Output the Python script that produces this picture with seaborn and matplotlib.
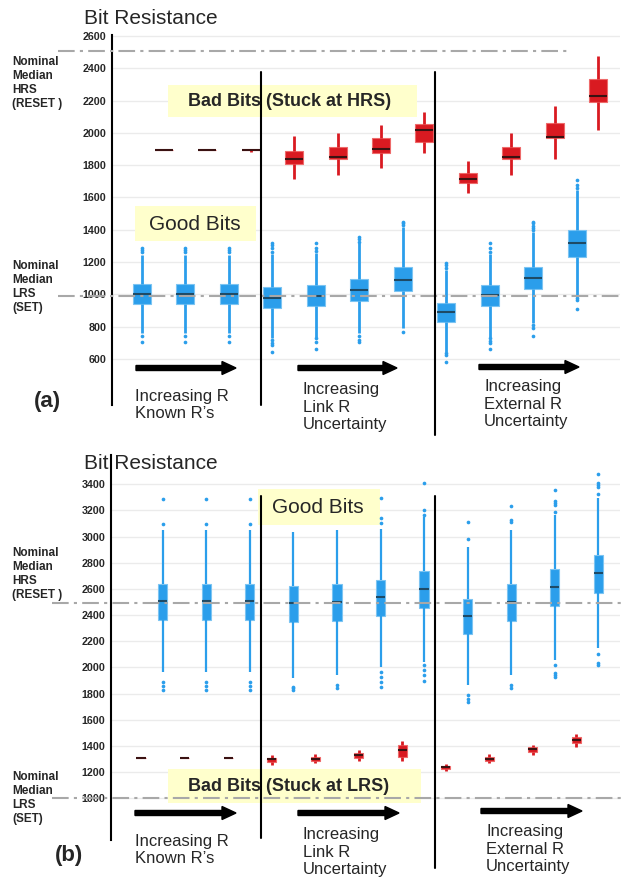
import numpy as np
import pandas as pd
import matplotlib
matplotlib.use('Agg')
import matplotlib.pyplot as plt
from matplotlib.patches import Rectangle, FancyArrow
import seaborn as sns

# 11 test conditions: 3 known R, 4 link-R uncertainty, 4 external-R uncertainty
conditions = ['R1', 'R2', 'R3', 'L1', 'L2', 'L3', 'L4', 'E1', 'E2', 'E3', 'E4']

# ---- (a) nominal LRS = 1000, HRS = 2510 ----
a_good_lo  = [758, 758, 758, 728, 738, 760, 789, 645, 738, 820, 985]
a_good_q1  = [940, 940, 940, 917, 929, 960, 1020, 830, 929, 1033, 1233]
a_good_med = [1005, 1005, 1005, 979, 992, 1028, 1089, 888, 994, 1101, 1316]
a_good_q3  = [1062, 1062, 1062, 1043, 1058, 1095, 1167, 948, 1058, 1171, 1398]
a_good_hi  = [1243, 1243, 1243, 1250, 1255, 1317, 1419, 1150, 1250, 1388, 1646]
a_good_out = [[1262, 1275, 1290, 742, 707], [1262, 1275, 1290, 742, 707],
              [1262, 1275, 1290, 742, 707], [1262, 1285, 1305, 1320, 717, 700, 686, 641],
              [1268, 1290, 1318, 728, 705, 661], [1326, 1340, 1357, 742, 720, 707],
              [1429, 1440, 1450, 768], [1163, 1180, 1194, 636, 624, 583],
              [1265, 1290, 1318, 728, 712, 696, 661], [1398, 1410, 1425, 1440, 1450, 810, 791, 742],
              [1658, 1680, 1707, 977, 965, 907]]

a_bad_lo  = [1895, 1895, 1880, 1714, 1739, 1784, 1873, 1629, 1739, 1840, 2017]
a_bad_q1  = [1895, 1895, 1895, 1807, 1838, 1873, 1945, 1687, 1838, 1970, 2193]
a_bad_med = [1895, 1895, 1895, 1836, 1848, 1898, 2017, 1714, 1848, 1976, 2230]
a_bad_q3  = [1895, 1895, 1895, 1887, 1914, 1966, 2054, 1753, 1914, 2063, 2333]
a_bad_hi  = [1895, 1895, 1895, 1980, 2001, 2046, 2131, 1827, 2001, 2166, 2476]

# ---- (b) nominal LRS = 1000, HRS = 2490 ----
b_good_lo  = [1968, 1968, 1968, 1917, 1942, 2006, 2044, 1866, 1942, 2057, 2146]
b_good_q1  = [2363, 2363, 2363, 2345, 2357, 2396, 2457, 2256, 2357, 2470, 2572]
b_good_med = [2506, 2506, 2506, 2490, 2503, 2536, 2600, 2393, 2503, 2615, 2725]
b_good_q3  = [2638, 2638, 2638, 2622, 2638, 2668, 2740, 2523, 2638, 2750, 2860]
b_good_hi  = [3050, 3050, 3050, 3037, 3050, 3062, 3152, 2923, 3050, 3165, 3293]
b_good_out = [[3094, 3291, 1890, 1860, 1830], [3094, 3291, 1890, 1860, 1830],
              [3094, 3291, 1890, 1860, 1830], [1853, 1840, 1828],
              [1866, 1842], [3102, 3141, 3293, 1968, 1930, 1890, 1853],
              [3165, 3203, 3408, 2020, 1980, 1940, 1895], [2984, 3114, 1789, 1760, 1738],
              [3114, 3125, 3236, 1866, 1842], [3190, 3241, 3260, 3272, 3356, 2019, 1956, 1940, 1926],
              [3325, 3382, 3397, 3412, 3476, 2103, 2032, 2019]]

b_bad_lo  = [1306, 1306, 1306, 1255, 1267, 1285, 1288, 1209, 1267, 1331, 1394]
b_bad_q1  = [1306, 1306, 1306, 1280, 1285, 1306, 1318, 1224, 1285, 1352, 1420]
b_bad_med = [1306, 1306, 1306, 1298, 1300, 1329, 1369, 1237, 1303, 1375, 1446]
b_bad_q3  = [1306, 1306, 1306, 1310, 1318, 1349, 1407, 1247, 1318, 1390, 1466]
b_bad_hi  = [1306, 1306, 1306, 1331, 1336, 1369, 1440, 1262, 1336, 1407, 1489]

BLUE, BLUE_EDGE = '#2B9EEB', '#7CC4F2'
RED, RED_EDGE = '#D91A21', '#EE6A6A'
YELLOW = '#FFFFCC'
palette = {'good': BLUE, 'bad': RED}

W, H = 625, 880


def five_num(lo, q1, med, q3, hi, label):
    rows = []
    for i in range(len(conditions)):
        for v in (lo[i], q1[i], med[i], q3[i], hi[i]):
            rows.append({'cond': i, 'value': v, 'bits': label})
    return pd.DataFrame(rows)


def outlier_frame(out, offset):
    rows = []
    for i, vals in enumerate(out):
        for v in vals:
            rows.append({'x': i + offset, 'value': v})
    return pd.DataFrame(rows)


def fx(x):
    return x / W


def fy(y):
    return 1 - y / H


def draw_panel(ax, good, bad, good_out, hue_order, gap, wlw, ylim, ticks):
    for df, col, edge, mcol, lw in [(good, BLUE, BLUE_EDGE, '#1E4A66', wlw),
                                    (bad, RED, RED_EDGE, '#3A1212', 2.0)]:
        sns.boxplot(data=df, x='cond', y='value', hue='bits', hue_order=hue_order,
                    order=list(range(len(conditions))), palette=palette, saturation=1,
                    dodge=True, width=1.0, gap=gap, whis=(0, 100), showcaps=False,
                    linecolor=edge, linewidth=0.8, legend=False, ax=ax,
                    medianprops={'color': mcol, 'linewidth': 1.5},
                    whiskerprops={'color': col, 'linewidth': lw})
    off = -0.25 + 0.5 * hue_order.index('good')
    sns.scatterplot(data=outlier_frame(good_out, off), x='x', y='value', color=BLUE,
                    s=7, linewidth=0, legend=False, ax=ax, zorder=3)
    ax.set_xlim(-0.94, 10.75)
    ax.set_ylim(*ylim)
    ax.set_yticks(ticks)
    ax.set_yticklabels([str(t) for t in ticks], fontweight='bold')
    ax.tick_params(axis='y', length=0, labelsize=7.7, pad=4)
    ax.set_xticks([])
    ax.set_xlabel('')
    ax.set_ylabel('')
    ax.yaxis.grid(True, color='#EBEBEB', lw=1)
    ax.set_axisbelow(True)
    ax.set_facecolor('none')
    for s in ['top', 'right', 'bottom']:
        ax.spines[s].set_visible(False)
    ax.spines['left'].set_color('black')
    ax.spines['left'].set_linewidth(1.5)


sns.set_style('white')
plt.rcParams['font.family'] = ['Liberation Sans', 'DejaVu Sans']

fig = plt.figure(figsize=(6.25, 8.8), dpi=100)
ax_a = fig.add_axes([fx(112), fy(405), fx(620) - fx(112), 370 / H])
ax_b = fig.add_axes([fx(111), fy(840), fx(620) - fx(111), 385 / H])

draw_panel(ax_a, five_num(a_good_lo, a_good_q1, a_good_med, a_good_q3, a_good_hi, 'good'),
           five_num(a_bad_lo, a_bad_q1, a_bad_med, a_bad_q3, a_bad_hi, 'bad'),
           a_good_out, ['good', 'bad'], 0.17, 2.0, (315, 2606), list(range(600, 2601, 200)))
draw_panel(ax_b, five_num(b_good_lo, b_good_q1, b_good_med, b_good_q3, b_good_hi, 'good'),
           five_num(b_bad_lo, b_bad_q1, b_bad_med, b_bad_q3, b_bad_hi, 'bad'),
           b_good_out, ['bad', 'good'], 0.58, 1.6, (681, 3624), list(range(1000, 3401, 200)))

dashdot = dict(color='#A8A8A8', lw=1.5, dashes=(8, 2.5, 1.5, 2.5), clip_on=False, zorder=4)
ax_a.axhline(2510, xmin=-0.106, xmax=0.898, **dashdot)
ax_a.axhline(990, xmin=-0.106, xmax=1.0, **dashdot)
ax_b.axhline(2490, xmin=-0.116, xmax=1.01, **dashdot)
ax_b.axhline(1000, xmin=-0.116, xmax=1.01, **dashdot)

sep = dict(color='black', lw=1.5, clip_on=False, zorder=4)
ax_a.axvline(2.5, ymin=0, ymax=0.9, **sep)
ax_a.axvline(6.5, ymin=-0.081, ymax=0.9, **sep)
ax_b.axvline(2.5, ymin=0.005, ymax=0.894, **sep)
ax_b.axvline(6.5, ymin=-0.073, ymax=0.894, **sep)

# yellow label boxes (pixel boxes -> figure fraction)
for ax, (x0, y0, x1, y1) in [(ax_a, (135, 206, 256, 241)), (ax_a, (168, 85, 417, 117)),
                             (ax_b, (258, 489, 380, 525)), (ax_b, (168, 769, 421, 803))]:
    ax.add_patch(Rectangle((fx(x0), fy(y1)), fx(x1) - fx(x0), (y1 - y0) / H,
                           transform=fig.transFigure, facecolor=YELLOW, edgecolor='none',
                           clip_on=False, zorder=1.5))

fig.text(fx(195), fy(224), 'Good Bits', fontsize=15, ha='center', va='center')
fig.text(fx(290), fy(101), 'Bad Bits (Stuck at HRS)', fontsize=13, fontweight='bold',
         ha='center', va='center')
fig.text(fx(318), fy(507), 'Good Bits', fontsize=15, ha='center', va='center')
fig.text(fx(289), fy(786), 'Bad Bits (Stuck at LRS)', fontsize=13, fontweight='bold',
         ha='center', va='center')

for y in (19, 463):
    fig.text(fx(84), fy(y), 'Bit Resistance', fontsize=15, ha='left', va='center')

nom = dict(fontsize=8.5, fontweight='bold', ha='left', va='center', linespacing=1.25)
fig.text(fx(12), fy(83), 'Nominal\nMedian\nHRS\n(RESET )', **nom)
fig.text(fx(12), fy(287), 'Nominal\nMedian\nLRS\n(SET)', **nom)
fig.text(fx(12), fy(574), 'Nominal\nMedian\nHRS\n(RESET )', **nom)
fig.text(fx(12), fy(798), 'Nominal\nMedian\nLRS\n(SET)', **nom)

fig.text(fx(47), fy(401), '(a)', fontsize=16, fontweight='bold', ha='center', va='center')
fig.text(fx(69), fy(855), '(b)', fontsize=16, fontweight='bold', ha='center', va='center')

arr_txt = dict(fontsize=12, ha='left', va='center', linespacing=1.2)
for (x, y, s) in [(135, 405, "Increasing R\nKnown R\u2019s"),
                  (303, 407, 'Increasing\nLink R\nUncertainty'),
                  (484, 404, 'Increasing\nExternal R\nUncertainty'),
                  (135, 850, "Increasing R\nKnown R\u2019s"),
                  (303, 852, 'Increasing\nLink R\nUncertainty'),
                  (486, 849, 'Increasing\nExternal R\nUncertainty')]:
    fig.text(fx(x), fy(y), s, **arr_txt)

for (x0, x1, y) in [(136, 236, 368), (298, 397, 368), (479, 579, 367),
                    (135, 236, 813), (298, 399, 813), (481, 582, 811)]:
    fig.add_artist(FancyArrow(x0 / 100, (H - y) / 100, (x1 - x0) / 100, 0,
                              width=0.05, head_width=0.13, head_length=0.14,
                              length_includes_head=True, color='black',
                              transform=fig.dpi_scale_trans))

fig.savefig('out.png', dpi=100)
